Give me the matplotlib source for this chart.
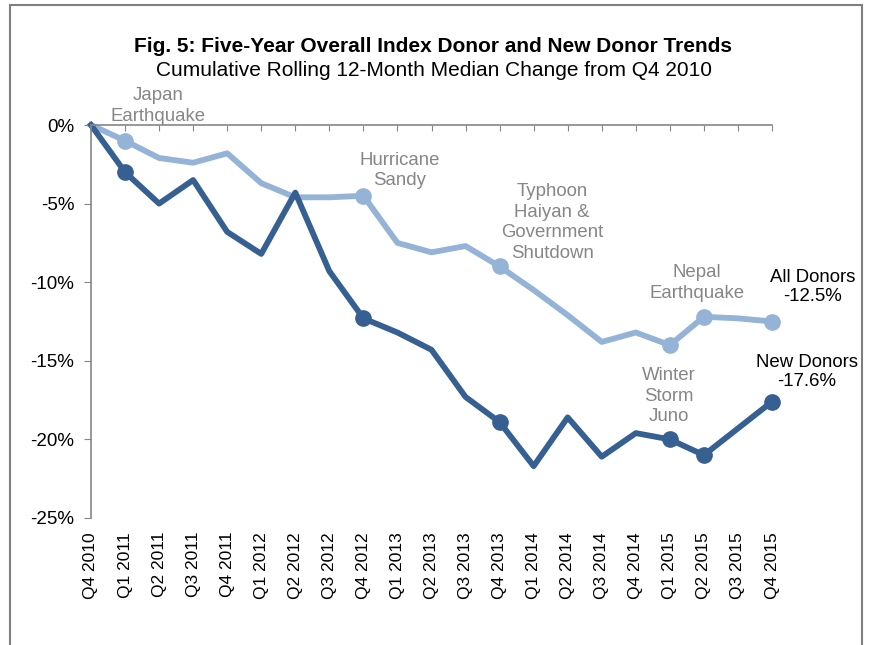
import numpy as np
import matplotlib
matplotlib.use('Agg')
from matplotlib import pyplot as plt
from matplotlib.patches import Rectangle

plt.rcParams['font.family'] = ['Liberation Sans', 'DejaVu Sans']

quarters = ['Q4 2010', 'Q1 2011', 'Q2 2011', 'Q3 2011', 'Q4 2011',
            'Q1 2012', 'Q2 2012', 'Q3 2012', 'Q4 2012',
            'Q1 2013', 'Q2 2013', 'Q3 2013', 'Q4 2013',
            'Q1 2014', 'Q2 2014', 'Q3 2014', 'Q4 2014',
            'Q1 2015', 'Q2 2015', 'Q3 2015', 'Q4 2015']
all_donors = [0, -1.0, -2.1, -2.4, -1.8, -3.7, -4.6, -4.6, -4.5,
              -7.5, -8.1, -7.7, -9.0, -10.5, -12.1, -13.8, -13.2,
              -14.0, -12.2, -12.3, -12.5]
new_donors = [0, -3.0, -5.0, -3.5, -6.8, -8.2, -4.3, -9.3, -12.3,
              -13.2, -14.3, -17.3, -18.9, -21.7, -18.6, -21.1, -19.6,
              -20.0, -21.0, -19.3, -17.6]
marked = [1, 8, 12, 17, 18, 20]

light = '#95b3d7'
dark = '#366092'
grey = '#868686'

fig = plt.figure(figsize=(8.7, 6.45), dpi=100)
ax = fig.add_axes([91/870, 1-518/645, (772-91)/870, (518-125)/645])

x = np.arange(len(quarters))
ax.plot(x, all_donors, color=light, lw=4.2, marker='o', ms=11,
        markevery=marked, clip_on=False)
ax.plot(x, new_donors, color=dark, lw=4.2, marker='o', ms=11,
        markevery=marked, clip_on=False)

ax.set_xlim(0, 20)
ax.set_ylim(-25, 0)
ax.set_yticks([0, -5, -10, -15, -20, -25])
ax.set_yticklabels(['0%', '-5%', '-10%', '-15%', '-20%', '-25%'], fontsize=13.5)
ax.set_xticks(x)
ax.set_xticklabels(quarters, rotation=90, fontsize=12.5)
ax.tick_params(axis='x', top=True, bottom=False, labelbottom=True,
               labeltop=False, direction='in', length=4, color=grey, pad=10)
ax.tick_params(axis='y', direction='out', length=5, color=grey, pad=7)
for s in ['right', 'bottom']:
    ax.spines[s].set_visible(False)
for s in ['left', 'top']:
    ax.spines[s].set_color(grey)
    ax.spines[s].set_linewidth(1.2)

notes = [(1.97, 1.2, 'Japan\nEarthquake'),
         (9.07, -2.9, 'Hurricane\nSandy'),
         (13.54, -6.2, 'Typhoon\nHaiyan &\nGovernment\nShutdown'),
         (17.8, -10.05, 'Nepal\nEarthquake'),
         (16.97, -17.25, 'Winter\nStorm\nJuno')]
for nx, ny, t in notes:
    ax.text(nx, ny, t, color=grey, fontsize=13.4, ha='center', va='center',
            linespacing=1.27, clip_on=False)
ax.text(21.2, -10.3, 'All Donors\n-12.5%', color='black', fontsize=13.4,
        ha='center', va='center', linespacing=1.2, clip_on=False)
ax.text(21.03, -15.7, 'New Donors\n-17.6%', color='black', fontsize=13.4,
        ha='center', va='center', linespacing=1.15, clip_on=False)

fig.text(433/870, 1-47/645, 'Fig. 5: Five-Year Overall Index Donor and New Donor Trends',
         fontsize=15, fontweight='bold', ha='center', va='center')
fig.text(434/870, 1-71/645, 'Cumulative Rolling 12-Month Median Change from Q4 2010',
         fontsize=15, ha='center', va='center')

fig.patches.append(Rectangle((10/870, -0.1), (862-10)/870, 1.1-5/645,
                             transform=fig.transFigure, fill=False,
                             edgecolor='#7f7f7f', lw=1.5))

plt.savefig('out.png', dpi=100)
